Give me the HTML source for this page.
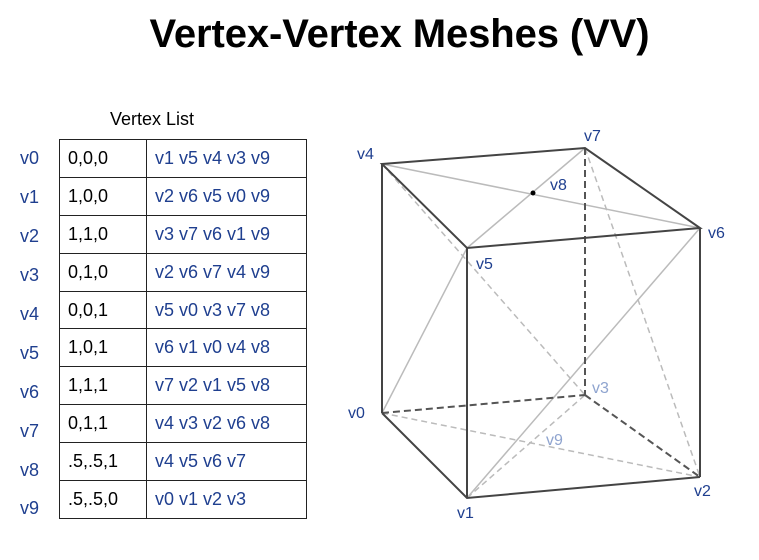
<!DOCTYPE html>
<html><head><style>
body{margin:0;width:759px;height:560px;background:#fff;font-family:"Liberation Sans",sans-serif;position:relative;overflow:hidden}
.t{position:absolute;left:20px;width:759px;top:12px;text-align:center;font-weight:bold;font-size:40px;letter-spacing:-0.1px}
.vl{position:absolute;left:110px;top:109px;font-size:18px}
table{position:absolute;left:59px;top:139px;border-collapse:collapse}
td{border:1px solid #222;height:37.9px;padding:0 0 0 8px;font-size:18px;box-sizing:border-box}
td.a{width:87px}td.b{width:160px;color:#1f3f8f}
.lb{position:absolute;left:20px;font-size:18px;color:#1f3f8f}
</style></head><body>
<div class="t">Vertex-Vertex Meshes (VV)</div>
<div class="vl">Vertex List</div>
<table>
<tr><td class="a">0,0,0</td><td class="b">v1 v5 v4 v3 v9</td></tr>
<tr><td class="a">1,0,0</td><td class="b">v2 v6 v5 v0 v9</td></tr>
<tr><td class="a">1,1,0</td><td class="b">v3 v7 v6 v1 v9</td></tr>
<tr><td class="a">0,1,0</td><td class="b">v2 v6 v7 v4 v9</td></tr>
<tr><td class="a">0,0,1</td><td class="b">v5 v0 v3 v7 v8</td></tr>
<tr><td class="a">1,0,1</td><td class="b">v6 v1 v0 v4 v8</td></tr>
<tr><td class="a">1,1,1</td><td class="b">v7 v2 v1 v5 v8</td></tr>
<tr><td class="a">0,1,1</td><td class="b">v4 v3 v2 v6 v8</td></tr>
<tr><td class="a">.5,.5,1</td><td class="b">v4 v5 v6 v7</td></tr>
<tr><td class="a">.5,.5,0</td><td class="b">v0 v1 v2 v3</td></tr>
</table>
<div class="lb" style="top:148px">v0</div><div class="lb" style="top:187px">v1</div><div class="lb" style="top:226px">v2</div><div class="lb" style="top:265px">v3</div><div class="lb" style="top:304px">v4</div><div class="lb" style="top:343px">v5</div><div class="lb" style="top:382px">v6</div><div class="lb" style="top:421px">v7</div><div class="lb" style="top:460px">v8</div><div class="lb" style="top:498px">v9</div>
<svg width="759" height="560" style="position:absolute;left:0;top:0" font-family="Liberation Sans" font-size="16">
<g stroke="#bbb" stroke-width="1.5" fill="none">
<line x1="382" y1="164" x2="700" y2="228"/><line x1="585" y1="148" x2="467" y2="248"/>
<line x1="382" y1="413" x2="467" y2="248"/><line x1="467" y1="498" x2="700" y2="228"/>
</g>
<g stroke="#bbb" stroke-width="1.5" fill="none" stroke-dasharray="6,4">
<line x1="382" y1="164" x2="585" y2="395"/><line x1="585" y1="148" x2="700" y2="477"/>
<line x1="382" y1="413" x2="700" y2="477"/><line x1="467" y1="498" x2="585" y2="395"/>
</g>
<g stroke="#555" stroke-width="2" fill="none" stroke-dasharray="7,4">
<line x1="585" y1="148" x2="585" y2="395"/><line x1="382" y1="413" x2="585" y2="395"/><line x1="585" y1="395" x2="700" y2="477"/>
</g>
<g stroke="#444" stroke-width="2" fill="none">
<polygon points="382,164 585,148 700,228 467,248"/>
<line x1="382" y1="164" x2="382" y2="413"/><line x1="467" y1="248" x2="467" y2="498"/><line x1="700" y1="228" x2="700" y2="477"/>
<polyline points="382,413 467,498 700,477"/>
</g>
<circle cx="533" cy="193" r="2.5" fill="#000"/>
<g fill="#1f3f8f">
<text x="357" y="159">v4</text><text x="584" y="141">v7</text><text x="550" y="190">v8</text><text x="708" y="238">v6</text>
<text x="476" y="269">v5</text><text x="348" y="418">v0</text><text x="694" y="496">v2</text><text x="457" y="518">v1</text>
</g>
<g fill="#8fa4cf"><text x="592" y="393">v3</text><text x="546" y="445">v9</text></g>
</svg>
</body></html>
